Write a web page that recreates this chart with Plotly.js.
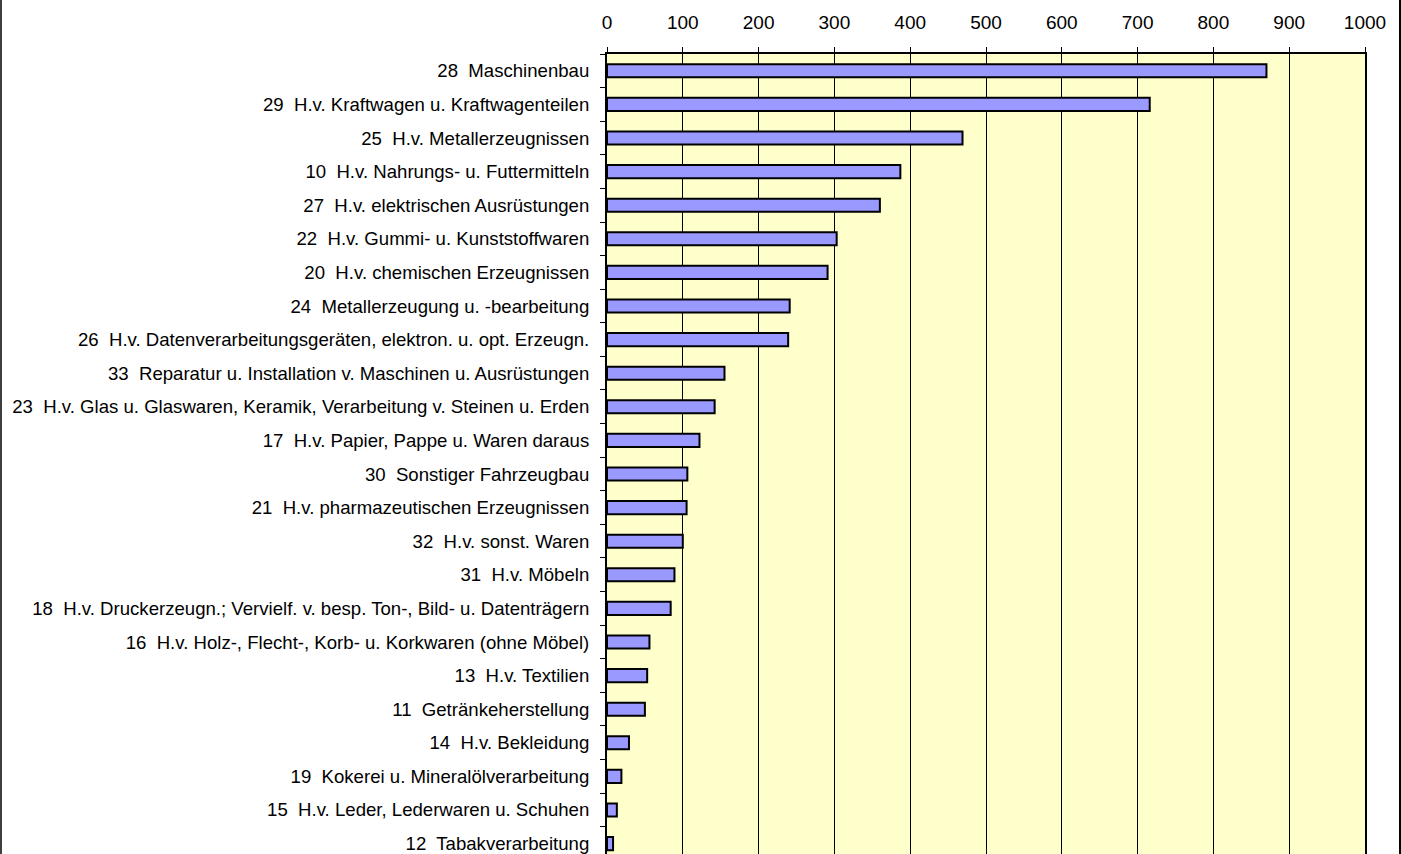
<!DOCTYPE html>
<html>
<head>
<meta charset="utf-8">
<script src="https://cdn.plot.ly/plotly-3.0.1.min.js"></script>
<style>
  html, body { margin: 0; padding: 0; background: #ffffff; }
  #chart { width: 1401px; height: 854px; }
</style>
</head>
<body>
<div id="chart"></div>
<script>
// Branches (top to bottom)
const categories = [
  "28  Maschinenbau",
  "29  H.v. Kraftwagen u. Kraftwagenteilen",
  "25  H.v. Metallerzeugnissen",
  "10  H.v. Nahrungs- u. Futtermitteln",
  "27  H.v. elektrischen Ausrüstungen",
  "22  H.v. Gummi- u. Kunststoffwaren",
  "20  H.v. chemischen Erzeugnissen",
  "24  Metallerzeugung u. -bearbeitung",
  "26  H.v. Datenverarbeitungsgeräten, elektron. u. opt. Erzeugn.",
  "33  Reparatur u. Installation v. Maschinen u. Ausrüstungen",
  "23  H.v. Glas u. Glaswaren, Keramik, Verarbeitung v. Steinen u. Erden",
  "17  H.v. Papier, Pappe u. Waren daraus",
  "30  Sonstiger Fahrzeugbau",
  "21  H.v. pharmazeutischen Erzeugnissen",
  "32  H.v. sonst. Waren",
  "31  H.v. Möbeln",
  "18  H.v. Druckerzeugn.; Vervielf. v. besp. Ton-, Bild- u. Datenträgern",
  "16  H.v. Holz-, Flecht-, Korb- u. Korkwaren (ohne Möbel)",
  "13  H.v. Textilien",
  "11  Getränkeherstellung",
  "14  H.v. Bekleidung",
  "19  Kokerei u. Mineralölverarbeitung",
  "15  H.v. Leder, Lederwaren u. Schuhen",
  "12  Tabakverarbeitung"
];

const values = [870, 716, 469, 387, 360, 303, 291, 241, 239, 155, 142, 122, 106, 105, 100, 89, 84, 56, 53, 50, 29, 19, 13, 8];

const xTickValues = [0, 100, 200, 300, 400, 500, 600, 700, 800, 900, 1000];

const trace = {
  type: "bar",
  orientation: "h",
  x: values,
  y: categories,
  width: 0.39,
  marker: { color: "#9999FF", line: { color: "#000000", width: 2 } },
  hoverinfo: "x+y"
};

const ml = 607, mr = 36, mt = 54, mb = 0;
const pw = 1401 - ml - mr;
const ph = 854 - mt - mb;

const layout = {
  width: 1401,
  height: 854,
  margin: { l: ml, r: mr, t: mt, b: mb, pad: 0 },
  paper_bgcolor: "#ffffff",
  plot_bgcolor: "#FFFFCC",
  showlegend: false,
  font: { family: "Liberation Sans, Arial, sans-serif", color: "#000000", size: 16 },
  bargap: 0,
  xaxis: {
    side: "top",
    range: [0, 1000],
    tickvals: xTickValues,
    ticktext: xTickValues.map(String),
    ticks: "outside",
    ticklen: 5,
    tickwidth: 1,
    tickcolor: "#000000",
    ticklabelstandoff: 10,
    tickfont: { size: 19, family: "Liberation Sans, Arial, sans-serif", color: "#000000" },
    showgrid: true,
    gridcolor: "#000000",
    gridwidth: 1,
    showline: true,
    linecolor: "#000000",
    linewidth: 2,
    mirror: true,
    zeroline: false,
    fixedrange: true
  },
  yaxis: {
    type: "category",
    categoryorder: "array",
    categoryarray: categories,
    range: [23.31, -0.5],
    tickson: "boundaries",
    ticks: "outside",
    ticklen: 5,
    tickwidth: 1,
    tickcolor: "#000000",
    ticklabelstandoff: 12,
    tickfont: { size: 18.6, family: "Liberation Sans, Arial, sans-serif", color: "#000000" },
    showgrid: false,
    showline: true,
    linecolor: "#000000",
    linewidth: 2,
    mirror: true,
    zeroline: false,
    fixedrange: true
  },
  shapes: [
    { type: "line", xref: "paper", yref: "paper",
      x0: (1 - ml) / pw, x1: (1 - ml) / pw, y0: -0.01, y1: 1 + mt / ph + 0.01,
      line: { color: "#404040", width: 2 } },
    { type: "line", xref: "paper", yref: "paper",
      x0: (1400 - ml) / pw, x1: (1400 - ml) / pw, y0: -0.01, y1: 1 + mt / ph + 0.01,
      line: { color: "#000000", width: 2 } }
  ]
};

Plotly.newPlot("chart", [trace], layout, { displayModeBar: false, staticPlot: true });
</script>
</body>
</html>
